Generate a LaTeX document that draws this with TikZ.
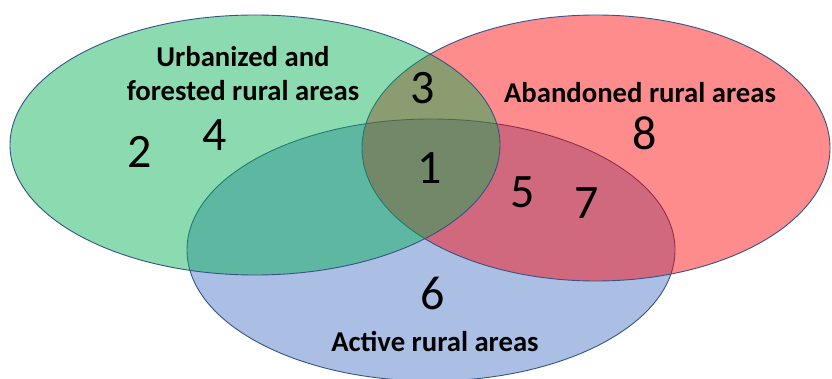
\documentclass[tikz,border=0pt]{standalone}
\usepackage{fontspec}
\setmainfont{Carlito}
\definecolor{verde}{RGB}{0,176,80}
\definecolor{rojo}{RGB}{255,0,0}
\definecolor{azul}{RGB}{68,114,196}
\definecolor{borde}{RGB}{52,84,135}

\begin{document}
\begin{tikzpicture}[x=1pt,y=-1pt,
	conjunto/.style={draw=borde, line width=0.9pt, fill opacity=0.45},
	numero/.style={font=\fontsize{48}{48}\selectfont},
	etiqueta/.style={font=\bfseries\fontsize{28.7}{34}\selectfont, align=center}]
		\useasboundingbox (0,0) rectangle (832,379);
		\clip (0,0) rectangle (832,379);
		\draw[conjunto, fill=azul] (431,250) ellipse [x radius=244, y radius=131]; %conjunto activo
		\draw[conjunto, fill=rojo] (596,148) ellipse [x radius=234, y radius=133]; %conjunto abandonado
		\draw[conjunto, fill=verde] (255,145) ellipse [x radius=245, y radius=130]; %conjunto urbanizado
		\node[etiqueta] (urb) at (243,74) {Urbanized and\\forested rural areas}; %etiquetas
		\node[etiqueta] (aba) at (640,93) {Abandoned rural areas};
		\node[etiqueta] (act) at (435,342) {Active rural areas};
		\node[numero] (n1) at (430,168) {1}; %regiones
		\node[numero] (n2) at (140,152) {2};
		\node[numero] (n3) at (423,88) {3};
		\node[numero] (n4) at (215,135) {4};
		\node[numero] (n5) at (523,192) {5};
		\node[numero] (n6) at (433,293) {6};
		\node[numero] (n7) at (587,203) {7};
		\node[numero] (n8) at (645,133) {8};
\end{tikzpicture}
\end{document}
